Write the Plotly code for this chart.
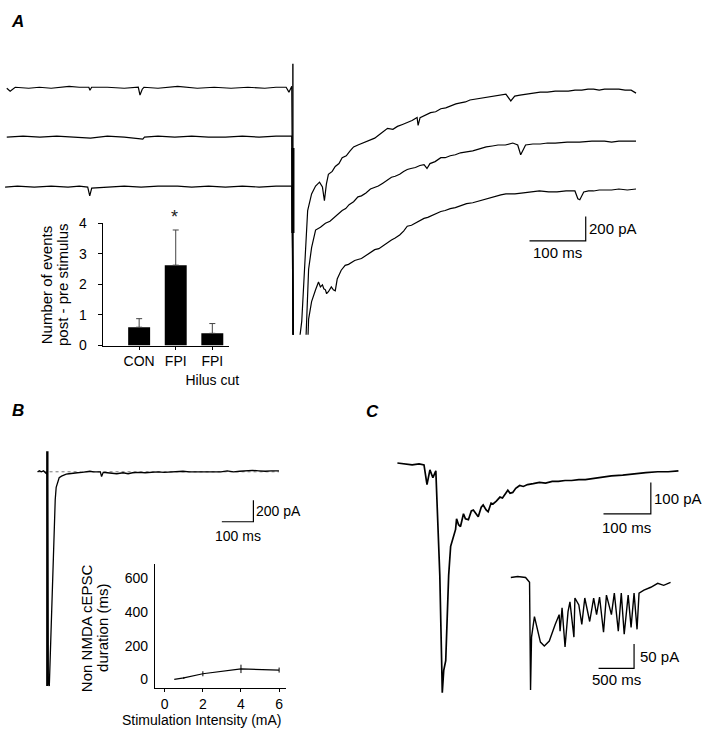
import plotly.graph_objects as go

W, H = 720, 743

# ---------------- DATA ----------------
# Panel A: three whole-cell traces (time in ms from stimulus, current in pA, relative to own baseline)
a_top_t = [-509, -503, -494, -470, -451, -430, -398, -380, -363, -361, -358, -330, -300, -275, -272, -268, -265, -240,
           -205, -185, -170, -140, -110, -80, -50, -30, -12, -7, -2, 1, 10.5, 15.8, 21, 26.3, 33.3, 40.4, 47.4, 52.6,
           56.1, 59.6, 63.2, 70, 75.4, 82, 87.7, 95, 101.8, 108, 115.8, 124, 131.6, 138, 145.6, 157, 168.4, 178, 186,
           195, 203.5, 212, 221, 222.8, 226.3, 235, 245, 254, 263.2, 272, 280, 290, 298.2, 307, 315, 325, 333.3, 345,
           355, 367, 379, 387.7, 394.7, 404, 414, 428, 440, 453, 466.7, 478, 490, 502, 514, 525, 535, 545, 554.4, 567,
           580, 591, 601.8, 610.5]
a_top_i = [0, -24, 8, 0, 8, 0, 16, 8, 8, -16, 8, 8, 0, 8, -56, -8, 8, 0, 16, 8, 0, 8, 0, 8, 0, 8, 8, -32, 16, -2150,
           -2104, -1904, -1424, -1000, -864, -800, -768, -808, -920, -784, -704, -680, -640, -616, -568, -552, -512,
           -480, -464, -448, -432, -424, -408, -368, -328, -336, -312, -296, -280, -264, -240, -304, -240, -224, -200,
           -192, -168, -160, -144, -128, -120, -112, -96, -88, -80, -72, -64, -56, -48, -104, -64, -56, -48, -40, -32,
           -32, -24, -24, -24, -16, -16, -8, -8, -16, -8, -8, -8, -16, -16, -40]

a_mid_t = [-509, -480, -450, -420, -390, -360, -330, -300, -267, -264, -240, -210, -180, -150, -120, -90, -60, -30, -2,
           0.9, 22.8, 24.6, 28, 33.3, 40.4, 49, 57.9, 66, 75.4, 81, 87.7, 94, 100, 108, 115.8, 122, 130, 138, 145.6,
           152, 160, 168, 175.4, 182, 190, 197, 203.5, 210, 218, 226, 233.3, 238.6, 243.9, 253, 263.2, 271, 280, 289,
           298.2, 309, 320, 332, 343.9, 355, 365, 378, 391.2, 400, 405.3, 410.5, 414, 427, 440, 453, 466.7, 488, 510,
           532, 554.4, 567, 580, 595, 610.5]
a_mid_i = [0, 8, 0, 8, 0, -8, 8, 0, -16, 0, 8, 0, 8, 0, 0, 8, 0, 8, 8, -1800, -1704, -1504, -1080, -904, -760, -736,
           -704, -688, -648, -624, -600, -584, -552, -528, -488, -480, -456, -424, -408, -400, -376, -352, -328, -320,
           -304, -280, -264, -256, -248, -232, -224, -256, -216, -200, -168, -168, -152, -144, -128, -120, -112, -96,
           -80, -72, -64, -64, -48, -64, -144, -96, -64, -56, -56, -48, -48, -40, -40, -32, -32, -40, -32, -32, -32]

a_bot_t = [-512, -490, -460, -430, -400, -380, -365, -361.4, -357.9, -330, -300, -270, -240, -205, -180, -150, -120,
           -90, -60, -30, -2, 1, 26.3, 28, 33.3, 40.4, 45.6, 49, 52.6, 55, 57.9, 60, 63.2, 68.4, 72, 75.4, 78.9, 86, 93,
           99, 105, 110, 115.8, 122, 130, 138, 145.6, 153, 160, 168, 175.4, 182, 190, 197, 203.5, 211, 218, 226, 233.3,
           240, 248, 256, 263.2, 271, 280, 289, 298.2, 309, 320, 332, 343.9, 352, 360, 370, 379, 395, 410, 425, 438.6,
           455, 470, 486, 501.8, 507, 510.5, 517.5, 526, 535, 545, 554.4, 567, 580, 595, 610.5]
a_bot_i = [0, 8, 0, 8, 0, 8, 0, -72, -8, 0, 8, 0, 8, 8, 0, 8, 0, 8, 0, 8, 8, -1400, -1296, -1080, -936, -840, -776, -816,
           -800, -832, -840, -872, -856, -816, -840, -848, -752, -680, -640, -632, -616, -600, -592, -584, -560, -536,
           -512, -504, -480, -456, -432, -416, -392, -360, -320, -312, -296, -272, -256, -248, -232, -216, -200, -192,
           -176, -168, -152, -136, -128, -112, -96, -88, -80, -64, -56, -56, -48, -40, -32, -40, -40, -32, -32, -96,
           -104, -40, -32, -32, -24, -24, -24, -16, -24, -16]

a_offsets = [0, -400, -808]            # vertical separation of the three sweeps (pA)
a_artifact_t = [0, 0]
a_artifact_i = [200, -2150]
a_artifact_thick_i = [-488, -1184]

# Panel A inset: bar chart
bar_cats = ["CON", "FPI", "FPI<br>Hilus cut"]
bar_vals = [0.6, 2.63, 0.4]
bar_err = [0.28, 1.15, 0.32]
bar_yticks = [0, 1, 2, 3, 4]

# Panel B: trace (ms, pA)
b_t = [-31, -25, -19, -12, -6, -3, 0, 1.5, 3.1, 6.25, 9.4, 12.5, 15.6, 18.7, 21.9, 25, 28, 32, 37.5, 45, 53, 60, 68.75,
       80, 95, 110, 122, 135, 147, 160, 168, 171.9, 177, 190, 205, 220, 240, 256, 270, 290, 310, 330, 350, 370, 390,
       410, 430, 450, 470, 490, 510, 530, 550, 570, 590, 610, 630, 650, 670, 690, 710, 734]
b_i = [0, 9, 0, 9, -9, -18, 0, -1500, -1964, -1991, -1691, -1300, -964, -640, -418, -260, -145, -95, -55, -40, -27,
       -22, -18, -12, -9, -5, 0, 5, 0, 0, 0, -45, -5, -9, -14, -18, -9, -18, -9, -5, -9, -5, 0, -5, 0, 0, 5, 0, 0, 5,
       0, 5, 0, 9, 0, 5, 9, 14, 9, 5, 9, 9]
b_artifact_i = [191, -1991]
b_baseline_t = [-31, 734]

# Panel B inset: duration vs stimulation intensity
stim_mA = [0.5, 1, 2, 4, 6]
dur_ms = [0, 8, 33, 62, 55]
dur_err = [0, 6, 15, 25, 15]
stim_ticks = [0, 2, 4, 6]
dur_ticks = [0, 200, 400, 600]

# Panel C: trace (ms, pA)
c_t = [0, 14.6, 31.2, 45.8, 56.2, 62.5, 68.7, 75, 81.2, 83.3, 89.6, 93.7, 94.8, 97.9, 102.1, 108.3, 112.5, 122.9, 125,
       129.2, 133.3, 139.6, 143.7, 150, 156.2, 160.4, 166.7, 170.8, 177.1, 181.2, 187.5, 191.7, 197.9, 202.1, 209,
       216.7, 222, 227.1, 233.3, 238, 243.7, 250, 258.3, 266, 275, 287, 300, 313, 327.1, 340, 354.2, 368, 383.3, 397,
       410.4, 431, 452.1, 476, 500, 525, 550, 572, 593.7]
c_i = [0, -3, -6, -3, -6, -69, -22, -47, -25, -109, -359, -650, -734, -662, -631, -359, -266, -212, -178, -197, -203,
       -162, -178, -181, -153, -150, -166, -172, -141, -134, -150, -156, -128, -131, -122, -109, -112, -100, -87, -97,
       -94, -81, -72, -75, -69, -66, -62, -64, -59, -59, -56, -56, -53, -53, -50, -47, -41, -39, -34, -31, -28, -28, -25]

# Panel C inset: long trace (ms, pA)
ci_t = [0, 97, 208, 264, 278, 292, 333, 375, 417, 472, 542, 625, 681, 694, 722, 764, 806, 833, 889, 903, 958, 1000,
        1042, 1111, 1167, 1208, 1250, 1306, 1347, 1417, 1458, 1514, 1556, 1597, 1653, 1694, 1736, 1778, 1806, 1875,
        1972, 2069, 2153, 2250]
ci_i = [0, 2, 0, -10, -230, -122, -80, -106, -132, -140, -130, -96, -76, -110, -62, -142, -70, -50, -122, -42, -56,
        -96, -42, -90, -42, -76, -40, -112, -36, -76, -32, -110, -32, -116, -36, -102, -32, -106, -32, -26, -20, -12,
        -16, -10]

# ---------------- LAYOUT HELPERS ----------------
def dx(p0, p1):
    return [p0 / W, p1 / W]


def dy(p_top, p_bot):
    return [1 - p_bot / H, 1 - p_top / H]


def xr(p0, p1, p_ref, v_ref, u):
    return [v_ref + (p0 - p_ref) * u, v_ref + (p1 - p_ref) * u]


def yr(p_top, p_bot, p_ref, v_ref, u):
    return [v_ref - (p_bot - p_ref) * u, v_ref + (p_ref - p_top) * u]


FONT = "Liberation Sans, Arial, sans-serif"

fig = go.Figure()


def line(x, y, ax, width=1.2, color="black", dash=None):
    fig.add_trace(go.Scatter(x=x, y=y, mode="lines", xaxis="x" + ax if ax else "x",
                             yaxis="y" + ax if ax else "y",
                             line=dict(color=color, width=width, dash=dash),
                             showlegend=False, hoverinfo="skip"))


# Panel A traces (axis "")
for tt, ii, off in [(a_top_t, a_top_i, a_offsets[0]), (a_mid_t, a_mid_i, a_offsets[1]),
                    (a_bot_t, a_bot_i, a_offsets[2])]:
    line(tt, [v + off for v in ii], "", 1.2)
line(a_artifact_t, a_artifact_i, "", 1.4)
line(a_artifact_t, a_artifact_thick_i, "", 3.2)
# scale bar A: 100 ms / 200 pA
line([421, 521, 521], [-1248, -1248, -1048], "", 1.2)

# Panel A inset bar chart (axis 2)
fig.add_trace(go.Bar(x=bar_cats, y=bar_vals, width=0.6, marker=dict(color="black", line=dict(width=0)),
                     error_y=dict(type="data", array=bar_err, arrayminus=[0] * 3, symmetric=False,
                                  color="#444", thickness=1, width=3),
                     xaxis="x2", yaxis="y2", showlegend=False, hoverinfo="skip"))

# Panel B trace (axis 3)
line(b_baseline_t, [0, 0], "3", 1.0, "#777", "dot")
line(b_t, b_i, "3", 1.3)
line([0, 0], b_artifact_i, "3", 2.4)
line([553, 653, 653], [-464, -464, -264], "3", 1.2)

# Panel B inset (axis 4)
fig.add_trace(go.Scatter(x=stim_mA, y=dur_ms, mode="lines", line=dict(color="black", width=1.2),
                         error_y=dict(type="data", array=dur_err, color="black", thickness=1, width=0),
                         xaxis="x4", yaxis="y4", showlegend=False, hoverinfo="skip"))

# Panel C trace (axis 5)
line(c_t, c_i, "5", 1.7)
line([435.4, 535.4, 535.4], [-162.5, -162.5, -62.5], "5", 1.2)

# Panel C inset (axis 6)
line(ci_t, ci_i, "6", 1.4)
line([1236, 1736, 1736], [-186, -186, -136], "6", 1.2)

hidden = dict(visible=False, showgrid=False, zeroline=False, fixedrange=True)

layout = dict(
    width=W, height=H, autosize=False, margin=dict(l=0, r=0, t=0, b=0, pad=0),
    paper_bgcolor="white", plot_bgcolor="rgba(0,0,0,0)",
    font=dict(family=FONT, size=14, color="black"),
    showlegend=False,
    xaxis=dict(domain=dx(0, 720), range=xr(0, 720, 297, 0, 100 / 57), anchor="y", **hidden),
    yaxis=dict(domain=dy(40, 334), range=yr(40, 334, 82, 0, 8), anchor="x", **hidden),
    xaxis2=dict(domain=dx(104, 232), range=[-1.0, 2.45], anchor="y2", showline=True, linecolor="black",
                linewidth=1, ticks="outside", ticklen=3, tickcolor="black", showgrid=False, zeroline=False,
                tickangle=0, tickfont=dict(size=14), fixedrange=True),
    yaxis2=dict(domain=dy(220, 345), range=[0, 4], anchor="x2", showline=True, linecolor="black", linewidth=1,
                tickvals=bar_yticks, ticks="outside", ticklen=4, tickcolor="black", showgrid=False,
                zeroline=False, tickfont=dict(size=14), ticklabelstandoff=8, fixedrange=True),
    xaxis3=dict(domain=dx(0, 720), range=xr(0, 720, 48, 0, 100 / 32), anchor="y3", **hidden),
    yaxis3=dict(domain=dy(440, 705), range=yr(440, 705, 474, 0, 200 / 22), anchor="x3", **hidden),
    xaxis4=dict(domain=dx(157, 290), range=[-0.52, 6.36], anchor="y4", showline=True, linecolor="black",
                linewidth=1, tickvals=stim_ticks, ticks="outside", ticklen=3, tickcolor="black",
                showgrid=False, zeroline=False, tickangle=0, tickfont=dict(size=14), fixedrange=True),
    yaxis4=dict(domain=dy(568, 695), range=[-52, 688], anchor="x4", showline=True, linecolor="black",
                linewidth=1, tickvals=dur_ticks, ticks="", showgrid=False, zeroline=False,
                tickfont=dict(size=14), ticklabelstandoff=3, fixedrange=True),
    xaxis5=dict(domain=dx(0, 720), range=xr(0, 720, 403, 0, 100 / 48), anchor="y5", **hidden),
    yaxis5=dict(domain=dy(440, 710), range=yr(440, 710, 465, 0, 100 / 32), anchor="x5", **hidden),
    xaxis6=dict(domain=dx(505, 700), range=xr(505, 700, 518, 0, 500 / 36), anchor="y6", **hidden),
    yaxis6=dict(domain=dy(570, 705), range=yr(570, 705, 582, 0, 2), anchor="x6", **hidden),
)

ann = []


def text(s, x, y, xref="paper", yref="paper", size=15, xanchor="center", yanchor="middle", angle=0, color="black"):
    ann.append(dict(text=s, x=x, y=y, xref=xref, yref=yref, showarrow=False, font=dict(size=size, color=color),
                    xanchor=xanchor, yanchor=yanchor, textangle=angle))


def ptx(px):
    return px / W


def pty(py):
    return 1 - py / H


text("<b><i>A</i></b>", ptx(18), pty(14), size=17)
text("<b><i>B</i></b>", ptx(18), pty(411), size=17)
text("<b><i>C</i></b>", ptx(378), pty(412), size=17)

text("200 pA", 524, -1148, "x", "y", 15, "left")
text("100 ms", 471, -1344, "x", "y", 15)
text("200 pA", 656, -364, "x3", "y3", 14, "left")
text("100 ms", 603, -600, "x3", "y3", 14)
text("100 pA", 538, -112, "x5", "y5", 15, "left")
text("100 ms", 485, -205, "x5", "y5", 15)
text("50 pA", 1790, -161, "x6", "y6", 15, "left")
text("500 ms", 1486, -208, "x6", "y6", 15)

# significance asterisk above the FPI bar
text("*", ptx(177), pty(214), size=18, color="#222")
text("Number of events", ptx(48), pty(283), size=15, angle=-90)
text("post - pre stimulus", ptx(64), pty(283), size=15, angle=-90)

text("Non NMDA cEPSC", ptx(88), pty(634), size=15, angle=-90)
text("duration (ms)", ptx(104), pty(634), size=15, angle=-90)
text("Stimulation Intensity (mA)", ptx(205), pty(728), size=14)

layout["annotations"] = ann
fig.update_layout(**layout)
fig.write_html("out.html", config={"displayModeBar": False, "responsive": False},
               post_script="document.body.style.margin='0px';document.body.style.padding='0px';"
                           "document.body.style.overflow='hidden';")
